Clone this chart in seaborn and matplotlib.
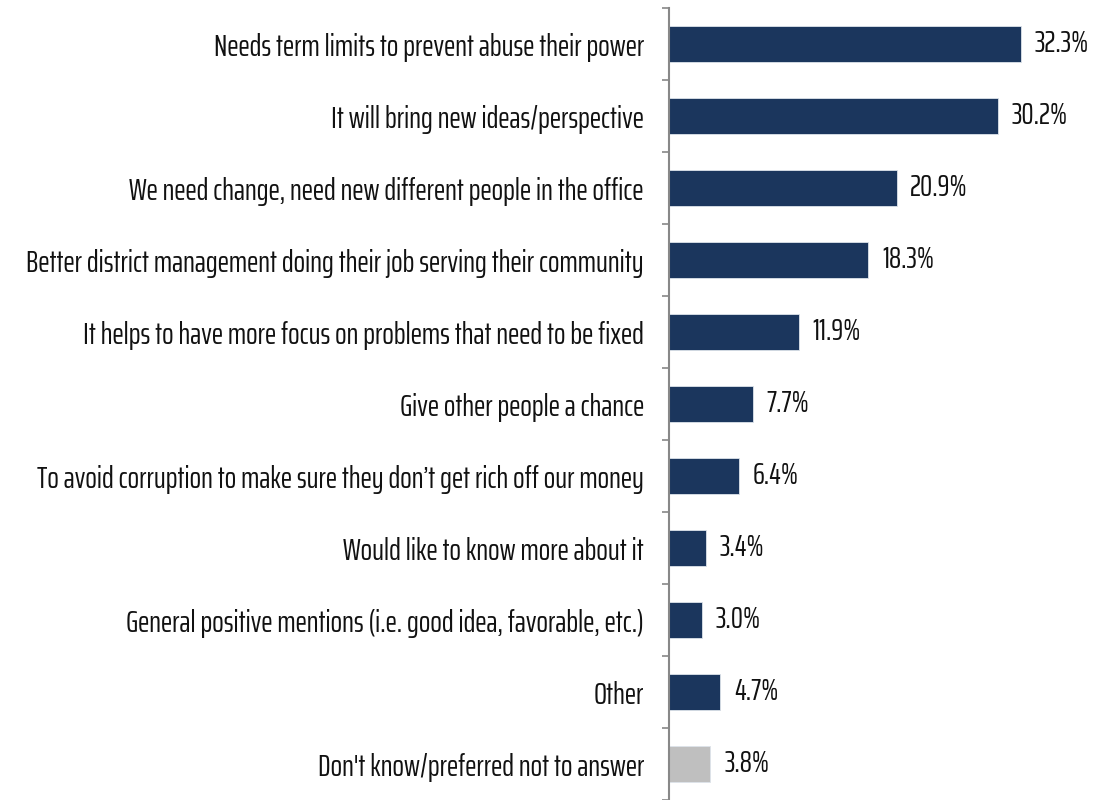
import numpy as np
import pandas as pd
import matplotlib
matplotlib.use("Agg")
import matplotlib.pyplot as plt
import seaborn as sns
from matplotlib.ticker import FixedLocator

categories = [
    "Needs term limits to prevent abuse their power",
    "It will bring new ideas/perspective",
    "We need change, need new different people in the office",
    "Better district management doing their job serving their community",
    "It helps to have more focus on problems that need to be fixed",
    "Give other people a chance",
    "To avoid corruption to make sure they don\u2019t get rich off our money",
    "Would like to know more about it",
    "General positive mentions (i.e. good idea, favorable, etc.)",
    "Other",
    "Don't know/preferred not to answer",
]
values = [32.3, 30.2, 20.9, 18.3, 11.9, 7.7, 6.4, 3.4, 3.0, 4.7, 3.8]
groups = ["main"] * 10 + ["dk"]

df = pd.DataFrame({"reason": categories, "pct": values, "group": groups})

sns.set_style("white")
plt.rcParams["font.family"] = ["Saira ExtraCondensed", "Pathway Gothic One", "DejaVu Sans"]

fig = plt.figure(figsize=(10.96, 8), dpi=100)
ax = fig.add_axes([0.6104, 0.0, 0.3896, 0.99])

sns.barplot(
    data=df, y="reason", x="pct", hue="group",
    palette={"main": "#1B365D", "dk": "#BFBFBF"},
    orient="h", width=0.5, dodge=False, legend=False, saturation=1,
    edgecolor="#DDE3EA", linewidth=0.6, ax=ax,
)

# value labels to the right of each bar
for i, v in enumerate(values):
    ax.text(v + 1.25, i, f"{v:.1f}%", va="center", ha="left", fontsize=22, color="#111111")

ax.set_xlim(0, 39.2)
ax.set_ylim(len(values) - 0.5, -0.5)
ax.set_xlabel("")
ax.set_ylabel("")
ax.set_xticks([])
ax.tick_params(axis="y", which="major", left=False, length=0, labelsize=22, pad=18, labelcolor="#111111")
ax.yaxis.set_minor_locator(FixedLocator(np.arange(-0.5, len(values), 1.0)))
ax.tick_params(axis="y", which="minor", left=True, length=5, width=1.2, color="#888888", direction="out")

for s in ["top", "right", "bottom"]:
    ax.spines[s].set_visible(False)
ax.spines["left"].set_color("#888888")
ax.spines["left"].set_linewidth(1.5)

fig.savefig("out.png", dpi=100)
